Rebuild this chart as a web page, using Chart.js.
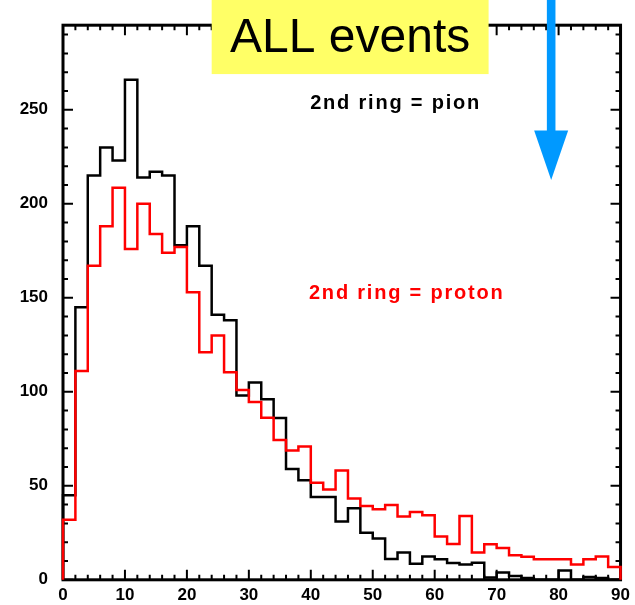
<!DOCTYPE html>
<html>
<head>
<meta charset="utf-8">
<script src="https://cdn.jsdelivr.net/npm/chart.js@4.4.0/dist/chart.umd.min.js"></script>
<style>
  html, body { margin: 0; padding: 0; background: #fff; }
  canvas { display: block; }
</style>
</head>
<body>
<canvas id="hist" width="635" height="605"></canvas>
<script>
// histogram binning (2 units per bin, 0..90)
const binWidth = 2;
const xMin = 0, xMax = 90;
const yMin = 0, yMax = 295;

// tick labels
const xTicks = [0, 10, 20, 30, 40, 50, 60, 70, 80, 90];
const yTicks = [0, 50, 100, 150, 200, 250];
const xMinorStep = 2;
const yMinorStep = 10;

// counts per bin
const pionCounts = [45, 145, 215, 230, 223, 266, 214, 217, 215, 178,
                    188, 167, 141, 138, 98, 105, 96, 86, 59, 53,
                    44, 44, 31, 38, 25, 22, 11, 14.5, 8.6, 12.4,
                    10.9, 9, 8.2, 9.1, 1.2, 3.9, 2, 1, 0, 0,
                    5, 0, 1.5, 1, 0];
const protonCounts = [32, 111, 167, 188, 208.6, 176, 200, 184, 174, 177,
                      153, 121, 130, 110.4, 101, 94.6, 86.2, 74.4, 68.8, 70.9,
                      51.6, 48, 58.2, 43.3, 39.3, 37.5, 39.8, 33.7, 36, 34.4,
                      23, 19.1, 34, 14.5, 18.9, 16.9, 13, 12.2, 10.9, 10.9,
                      10.9, 8.2, 10.9, 12.4, 6.8];

const pionLabel = '2nd ring = pion';
const protonLabel = '2nd ring = proton';
const titleText = 'ALL events';

const fontFamily = '"Liberation Sans", Arial, Helvetica, sans-serif';

// turn bin counts into step-line points at the bin edges
function stepPoints(counts) {
    const pts = [{x: xMin, y: 0}];
    counts.forEach((c, i) => pts.push({x: xMin + i * binWidth, y: c}));
    const end = xMin + counts.length * binWidth;
    pts.push({x: end, y: counts[counts.length - 1]});
    pts.push({x: end, y: 0});
    return pts;
}

// frame + inward ticks on all four sides
const framePlugin = {
    id: 'frame',
    beforeDatasetsDraw(chart) {
        const {ctx, chartArea: a, scales: {x, y}} = chart;
        ctx.save();
        ctx.strokeStyle = '#000';
        ctx.lineWidth = 2;
        ctx.beginPath();
        for (let v = xMin; v <= xMax; v += xMinorStep) {
            const px = x.getPixelForValue(v);
            const len = v % 10 === 0 ? 10 : 5;
            ctx.moveTo(px, a.bottom); ctx.lineTo(px, a.bottom - len);
            ctx.moveTo(px, a.top); ctx.lineTo(px, a.top + len);
        }
        for (let v = yMin; v <= yMax; v += yMinorStep) {
            const py = y.getPixelForValue(v);
            const len = v % 50 === 0 ? 10 : 5;
            ctx.moveTo(a.left, py); ctx.lineTo(a.left + len, py);
            ctx.moveTo(a.right, py); ctx.lineTo(a.right - len, py);
        }
        ctx.stroke();
        ctx.lineWidth = 3;
        ctx.strokeRect(a.left, a.top, a.right - a.left, a.bottom - a.top);
        ctx.restore();
    }
};

// title box, arrow and the two series labels
const notesPlugin = {
    id: 'notes',
    afterDraw(chart) {
        const {ctx, scales: {x, y}} = chart;
        ctx.save();

        // yellow title box
        const bx0 = x.getPixelForValue(24), bx1 = x.getPixelForValue(68.7);
        const bBottom = y.getPixelForValue(269);
        ctx.fillStyle = '#ffff66';
        ctx.fillRect(bx0, 0, bx1 - bx0, bBottom);
        ctx.fillStyle = '#000';
        ctx.font = '48px ' + fontFamily;
        ctx.textAlign = 'center';
        ctx.textBaseline = 'alphabetic';
        ctx.fillText(titleText, (bx0 + bx1) / 2, y.getPixelForValue(280.5));

        // blue arrow
        const ax = x.getPixelForValue(78.8);
        const headTop = y.getPixelForValue(239);
        const tip = y.getPixelForValue(212.6);
        ctx.fillStyle = '#0099ff';
        ctx.fillRect(ax - 4.3, 0, 8.6, headTop + 1);
        ctx.beginPath();
        ctx.moveTo(ax - 17, headTop);
        ctx.lineTo(ax + 17, headTop);
        ctx.lineTo(ax, tip);
        ctx.closePath();
        ctx.fill();

        // series labels
        ctx.textAlign = 'left';
        ctx.font = 'bold 20px ' + fontFamily;
        ctx.letterSpacing = '1.8px';
        ctx.fillStyle = '#000';
        ctx.fillText(pionLabel, x.getPixelForValue(39.9), y.getPixelForValue(250.5));
        ctx.fillStyle = '#ff0000';
        ctx.fillText(protonLabel, x.getPixelForValue(39.7), y.getPixelForValue(149.5));
        ctx.restore();
    }
};

const ctx = document.getElementById('hist').getContext('2d');
const chart = new Chart(ctx, {
    type: 'line',
    data: {
        datasets: [{
            label: 'proton',
            data: stepPoints(protonCounts),
            borderColor: '#ff0000',
            borderWidth: 2.5,
            stepped: 'before',
            pointRadius: 0,
            fill: false,
            clip: 6,
            order: 0
        }, {
            label: 'pion',
            data: stepPoints(pionCounts),
            borderColor: '#000000',
            borderWidth: 2.5,
            stepped: 'before',
            pointRadius: 0,
            fill: false,
            clip: 6,
            order: 1
        }]
    },
    options: {
        responsive: false,
        animation: false,
        layout: { padding: { top: 22, right: 10, left: 0, bottom: 0 } },
        plugins: {
            legend: { display: false },
            tooltip: { enabled: false }
        },
        scales: {
            x: {
                type: 'linear',
                min: xMin,
                max: xMax,
                grid: { display: false, drawTicks: false },
                border: { display: false },
                ticks: {
                    color: '#000',
                    padding: 5,
                    maxRotation: 0,
                    autoSkip: false,
                    font: { family: fontFamily, size: 17, weight: 'bold' }
                },
                afterBuildTicks: s => { s.ticks = xTicks.map(v => ({value: v})); },
                afterFit: s => { s.height = 22; }
            },
            y: {
                type: 'linear',
                min: yMin,
                max: yMax,
                grid: { display: false, drawTicks: false },
                border: { display: false },
                ticks: {
                    color: '#000',
                    padding: 15,
                    font: { family: fontFamily, size: 17, weight: 'bold' }
                },
                afterBuildTicks: s => { s.ticks = yTicks.map(v => ({value: v})); },
                afterFit: s => { s.width = 63; }
            }
        }
    },
    plugins: [framePlugin, notesPlugin]
});
</script>
</body>
</html>
